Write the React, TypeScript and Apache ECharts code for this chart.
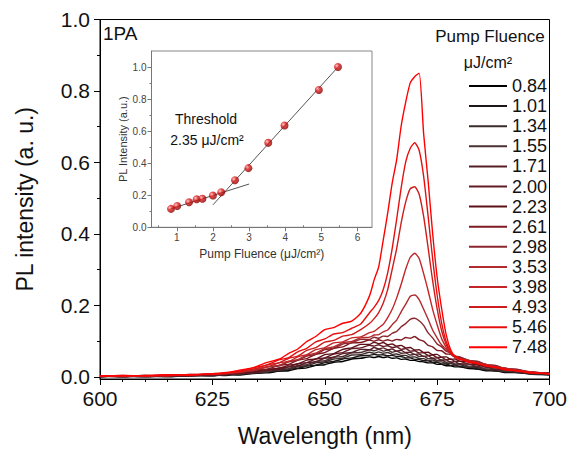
import { useEffect, useRef } from 'react';
import * as echarts from 'echarts';

const wavelengths = [600, 605, 610, 615, 620, 625, 628, 631, 634, 637, 640, 642, 644, 646, 648, 650, 652, 654, 656, 658,
  660, 661, 662, 663, 664, 665, 666, 667, 668, 669, 670, 671, 672, 673, 674, 675, 676, 677, 678, 679, 680,
  682, 684, 686, 688, 690, 693, 696, 700];

const fluences = ['0.84', '1.01', '1.34', '1.55', '1.71', '2.00', '2.23', '2.61', '2.98', '3.53', '3.98', '4.93', '5.46', '7.48'];

const lineColors = ['#000000', '#1c1616', '#3a2c2c', '#4a3030', '#561e26', '#621c26', '#5e1018', '#7e1a22', '#8a262c', '#b02a2e', '#c22628', '#cc1c1c', '#e41010', '#ff0000'];

const s084 = [0.001, 0.002, 0.000, 0.002, 0.004, 0.003, 0.006, 0.005, 0.010, 0.011, 0.016, 0.017, 0.023, 0.025, 0.032, 0.034, 0.041, 0.043, 0.050, 0.052,
  0.056, 0.054, 0.057, 0.054, 0.056, 0.052, 0.053, 0.049, 0.050, 0.046, 0.046, 0.043, 0.042, 0.039, 0.039, 0.035, 0.035, 0.031, 0.031, 0.028, 0.028,
  0.023, 0.022, 0.017, 0.017, 0.012, 0.012, 0.007, 0.006];
const s101 = [0.002, 0.001, 0.002, 0.001, 0.003, 0.005, 0.004, 0.008, 0.009, 0.014, 0.016, 0.021, 0.024, 0.030, 0.033, 0.040, 0.043, 0.050, 0.053, 0.059,
  0.060, 0.063, 0.061, 0.062, 0.059, 0.060, 0.057, 0.057, 0.053, 0.053, 0.049, 0.049, 0.045, 0.045, 0.041, 0.041, 0.036, 0.036, 0.032, 0.033, 0.029,
  0.027, 0.022, 0.021, 0.016, 0.016, 0.011, 0.010, 0.005];
const s134 = [0.000, 0.002, 0.002, 0.001, 0.004, 0.003, 0.007, 0.007, 0.012, 0.013, 0.020, 0.021, 0.028, 0.031, 0.039, 0.042, 0.050, 0.052, 0.061, 0.062,
  0.069, 0.066, 0.070, 0.066, 0.068, 0.063, 0.064, 0.060, 0.060, 0.055, 0.056, 0.051, 0.051, 0.046, 0.047, 0.042, 0.042, 0.037, 0.038, 0.033, 0.034,
  0.027, 0.026, 0.020, 0.020, 0.014, 0.014, 0.008, 0.008];
const s155 = [0.002, 0.000, 0.003, 0.001, 0.004, 0.004, 0.007, 0.008, 0.013, 0.014, 0.022, 0.023, 0.032, 0.034, 0.043, 0.045, 0.055, 0.057, 0.067, 0.068,
  0.076, 0.073, 0.077, 0.072, 0.075, 0.069, 0.072, 0.066, 0.067, 0.061, 0.063, 0.057, 0.058, 0.051, 0.052, 0.046, 0.047, 0.041, 0.042, 0.036, 0.037,
  0.030, 0.029, 0.022, 0.022, 0.016, 0.015, 0.009, 0.008];
const s171 = [0.001, 0.003, 0.001, 0.003, 0.003, 0.006, 0.006, 0.011, 0.011, 0.018, 0.020, 0.028, 0.030, 0.040, 0.042, 0.052, 0.055, 0.065, 0.068, 0.077,
  0.076, 0.082, 0.078, 0.081, 0.076, 0.078, 0.072, 0.074, 0.068, 0.069, 0.063, 0.064, 0.057, 0.059, 0.052, 0.053, 0.046, 0.048, 0.041, 0.043, 0.036,
  0.036, 0.028, 0.028, 0.020, 0.021, 0.013, 0.012, 0.007];
const s200 = [0.002, 0.000, 0.003, 0.002, 0.005, 0.005, 0.008, 0.009, 0.015, 0.017, 0.026, 0.028, 0.037, 0.040, 0.050, 0.053, 0.064, 0.068, 0.079, 0.081,
  0.088, 0.086, 0.090, 0.085, 0.087, 0.082, 0.084, 0.077, 0.079, 0.072, 0.073, 0.067, 0.067, 0.060, 0.061, 0.054, 0.055, 0.048, 0.050, 0.043, 0.044,
  0.035, 0.035, 0.026, 0.027, 0.019, 0.018, 0.010, 0.010];
const s223 = [0.000, 0.003, 0.001, 0.004, 0.003, 0.007, 0.007, 0.012, 0.014, 0.021, 0.024, 0.033, 0.036, 0.047, 0.050, 0.062, 0.065, 0.077, 0.081, 0.091,
  0.091, 0.097, 0.093, 0.096, 0.090, 0.092, 0.086, 0.088, 0.081, 0.082, 0.075, 0.076, 0.068, 0.069, 0.062, 0.063, 0.055, 0.056, 0.049, 0.050, 0.044,
  0.042, 0.033, 0.032, 0.025, 0.024, 0.016, 0.014, 0.009];
const s261 = [0.003, 0.001, 0.004, 0.003, 0.006, 0.006, 0.010, 0.011, 0.019, 0.021, 0.033, 0.035, 0.047, 0.051, 0.063, 0.068, 0.080, 0.084, 0.095, 0.096,
  0.103, 0.100, 0.104, 0.100, 0.104, 0.100, 0.105, 0.103, 0.110, 0.108, 0.113, 0.104, 0.100, 0.088, 0.084, 0.074, 0.073, 0.064, 0.063, 0.055, 0.055,
  0.045, 0.043, 0.033, 0.032, 0.023, 0.021, 0.012, 0.011];
const s298 = [0.001, 0.004, 0.002, 0.005, 0.005, 0.008, 0.008, 0.014, 0.017, 0.027, 0.031, 0.042, 0.046, 0.058, 0.063, 0.076, 0.080, 0.092, 0.095, 0.105,
  0.105, 0.111, 0.108, 0.114, 0.113, 0.122, 0.127, 0.140, 0.149, 0.161, 0.164, 0.157, 0.144, 0.123, 0.109, 0.092, 0.084, 0.072, 0.067, 0.058, 0.056,
  0.046, 0.043, 0.034, 0.031, 0.023, 0.020, 0.012, 0.010];
const s353 = [0.002, 0.003, 0.003, 0.005, 0.005, 0.009, 0.009, 0.015, 0.018, 0.028, 0.033, 0.044, 0.048, 0.061, 0.066, 0.079, 0.084, 0.096, 0.099, 0.109,
  0.111, 0.117, 0.118, 0.126, 0.131, 0.146, 0.159, 0.182, 0.203, 0.225, 0.229, 0.216, 0.189, 0.161, 0.131, 0.109, 0.089, 0.077, 0.065, 0.059, 0.051,
  0.047, 0.039, 0.035, 0.028, 0.025, 0.017, 0.014, 0.008];
const s398 = [0.003, 0.002, 0.004, 0.004, 0.007, 0.007, 0.011, 0.013, 0.021, 0.027, 0.040, 0.043, 0.056, 0.062, 0.076, 0.082, 0.095, 0.098, 0.109, 0.112,
  0.124, 0.127, 0.137, 0.147, 0.166, 0.189, 0.221, 0.259, 0.301, 0.334, 0.346, 0.331, 0.289, 0.241, 0.189, 0.146, 0.107, 0.083, 0.064, 0.057, 0.049,
  0.045, 0.038, 0.034, 0.027, 0.024, 0.017, 0.014, 0.008];
const s493 = [0.002, 0.003, 0.003, 0.005, 0.005, 0.009, 0.010, 0.016, 0.021, 0.033, 0.040, 0.052, 0.058, 0.074, 0.082, 0.097, 0.102, 0.114, 0.118, 0.132,
  0.150, 0.163, 0.180, 0.206, 0.244, 0.301, 0.359, 0.431, 0.489, 0.526, 0.532, 0.511, 0.449, 0.361, 0.269, 0.191, 0.129, 0.091, 0.065, 0.056, 0.049,
  0.045, 0.037, 0.033, 0.026, 0.023, 0.016, 0.013, 0.008];
const s546 = [0.003, 0.002, 0.004, 0.003, 0.007, 0.007, 0.012, 0.015, 0.025, 0.033, 0.048, 0.054, 0.070, 0.080, 0.098, 0.106, 0.120, 0.124, 0.136, 0.148,
  0.180, 0.195, 0.214, 0.244, 0.291, 0.359, 0.441, 0.529, 0.601, 0.639, 0.655, 0.634, 0.561, 0.449, 0.331, 0.229, 0.151, 0.099, 0.071, 0.055, 0.051,
  0.042, 0.038, 0.030, 0.027, 0.021, 0.017, 0.011, 0.009];
const s748 = [0.002, 0.004, 0.003, 0.006, 0.005, 0.009, 0.011, 0.019, 0.025, 0.040, 0.050, 0.066, 0.078, 0.099, 0.113, 0.132, 0.138, 0.150, 0.156, 0.178,
  0.228, 0.272, 0.308, 0.382, 0.458, 0.542, 0.608, 0.702, 0.768, 0.822, 0.840, 0.850, 0.680, 0.548, 0.402, 0.279, 0.191, 0.119, 0.076, 0.057, 0.051,
  0.041, 0.037, 0.030, 0.027, 0.020, 0.017, 0.011, 0.009];

const spectra = [s084, s101, s134, s155, s171, s200, s223, s261, s298, s353, s398, s493, s546, s748];

const insetFluence = [0.84, 1.01, 1.34, 1.55, 1.71, 2.00, 2.23, 2.61, 2.98, 3.53, 3.98, 4.93, 5.46];
const insetIntensity = [0.115, 0.133, 0.156, 0.175, 0.178, 0.198, 0.219, 0.294, 0.369, 0.527, 0.635, 0.857, 1.0];
const lowFit = [[0.8, 0.113], [3.0, 0.27]];
const highFit = [[2.0, 0.14], [5.5, 1.01]];

const mainYTicks = [0, 0.2, 0.4, 0.6, 0.8, 1.0];
const mainYMinor = [0.1, 0.3, 0.5, 0.7, 0.9];
const insetXTicks = [1, 2, 3, 4, 5, 6];
const insetXMinor = [0.5, 1.5, 2.5, 3.5, 4.5, 5.5];
const insetYTicks = [0, 0.2, 0.4, 0.6, 0.8, 1.0];
const insetYMinor = [0.1, 0.3, 0.5, 0.7, 0.9];

const FONT = '"Liberation Sans", Arial, sans-serif';

export default function App() {
  const ref = useRef<HTMLDivElement>(null);
  useEffect(() => {
    const chart = echarts.init(ref.current!, null, { renderer: 'svg' });
    const mainSeries = spectra.map((s, i) => ({
      name: fluences[i],
      type: 'line',
      xAxisIndex: 0,
      yAxisIndex: 0,
      data: wavelengths.map((w, j) => [w, s[j]]),
      symbol: 'none',
      showSymbol: false,
      smooth: 0.2,
      lineStyle: { color: lineColors[i], width: 1.4 },
      itemStyle: { color: lineColors[i] },
      z: 2 + i * 0.01,
    }));
    const option: any = {
      animation: false,
      backgroundColor: '#fff',
      textStyle: { fontFamily: FONT },
      grid: [
        { left: 100, right: 21.5, top: 19.5, bottom: 76, show: true, borderColor: '#000', borderWidth: 1, backgroundColor: 'transparent' },
        { left: 151.5, top: 51, width: 220.5, height: 176.3, show: true, borderColor: '#888', borderWidth: 1, backgroundColor: '#fff', z: 3 },
      ],
      xAxis: [
        {
          type: 'value', gridIndex: 0, min: 600, max: 700, interval: 25,
          axisLine: { show: true, onZero: false, lineStyle: { color: '#000', width: 1 } },
          axisTick: { show: true, length: 6, lineStyle: { color: '#000' } },
          minorTick: { show: true, splitNumber: 5, length: 3, lineStyle: { color: '#000' } },
          axisLabel: { fontSize: 21, color: '#111', margin: 9, fontFamily: FONT },
          splitLine: { show: false },
          name: 'Wavelength (nm)', nameLocation: 'middle', nameGap: 45,
          nameTextStyle: { fontSize: 23, color: '#111', fontFamily: FONT },
        },
        {
          type: 'value', gridIndex: 1, min: 0.3, max: 6.4,
          axisLine: { show: true, onZero: false, lineStyle: { color: '#777', width: 1 } },
          axisTick: { show: true, customValues: insetXTicks, length: 4, lineStyle: { color: '#777' } },
          axisLabel: { customValues: insetXTicks, fontSize: 10, color: '#444', margin: 5, fontFamily: FONT },
          splitLine: { show: false },
          name: 'Pump Fluence (μJ/cm²)', nameLocation: 'middle', nameGap: 21,
          nameTextStyle: { fontSize: 12, color: '#333', fontFamily: FONT },
          z: 4,
        },
        {
          type: 'value', gridIndex: 1, min: 0.3, max: 6.4,
          axisLine: { show: false },
          axisTick: { show: true, customValues: insetXMinor, length: 2, lineStyle: { color: '#777' } },
          axisLabel: { show: false },
          splitLine: { show: false },
          z: 4,
        },
      ],
      yAxis: [
        {
          type: 'value', gridIndex: 0, min: -0.006, max: 1.0, position: 'left',
          axisLine: { show: true, onZero: false, lineStyle: { color: '#000', width: 1 } },
          axisTick: { show: true, customValues: mainYTicks, length: 6, lineStyle: { color: '#000' } },
          axisLabel: { customValues: mainYTicks, formatter: (v: number) => v.toFixed(1), fontSize: 21, color: '#111', margin: 10, fontFamily: FONT },
          splitLine: { show: false },
          name: 'PL intensity (a. u.)', nameLocation: 'middle', nameGap: 64,
          nameTextStyle: { fontSize: 23, color: '#111', fontFamily: FONT },
        },
        {
          type: 'value', gridIndex: 0, min: -0.006, max: 1.0, position: 'left',
          axisLine: { show: false },
          axisTick: { show: true, customValues: mainYMinor, length: 3, lineStyle: { color: '#000' } },
          axisLabel: { show: false },
          splitLine: { show: false },
        },
        {
          type: 'value', gridIndex: 1, min: 0, max: 1.1, position: 'left',
          axisLine: { show: true, onZero: false, lineStyle: { color: '#777', width: 1 } },
          axisTick: { show: true, customValues: insetYTicks, length: 4, lineStyle: { color: '#777' } },
          axisLabel: { customValues: insetYTicks, formatter: (v: number) => v.toFixed(1), fontSize: 10, color: '#444', margin: 5, fontFamily: FONT },
          splitLine: { show: false },
          name: 'PL Intensity (a.u.)', nameLocation: 'middle', nameGap: 23,
          nameTextStyle: { fontSize: 11, color: '#333', fontFamily: FONT },
          z: 4,
        },
        {
          type: 'value', gridIndex: 1, min: 0, max: 1.1, position: 'left',
          axisLine: { show: false },
          axisTick: { show: true, customValues: insetYMinor, length: 2, lineStyle: { color: '#777' } },
          axisLabel: { show: false },
          splitLine: { show: false },
          z: 4,
        },
      ],
      legend: {
        data: fluences.map((f) => ({ name: f, icon: 'rect' })),
        orient: 'vertical',
        left: 464,
        top: 72,
        itemWidth: 38,
        itemHeight: 2,
        itemGap: 2.1,
        textStyle: { fontSize: 18, color: '#111', fontFamily: FONT, lineHeight: 18 },
        selectedMode: false,
      },
      graphic: [
        { type: 'text', left: 103, top: 24, style: { text: '1PA', font: `19px ${FONT}`, fill: '#111' } },
        { type: 'text', x: 490, y: 36, style: { text: 'Pump Fluence', font: `17px ${FONT}`, fill: '#111', textAlign: 'center', textVerticalAlign: 'middle' } },
        { type: 'text', x: 488, y: 62, style: { text: 'μJ/cm²', font: `16px ${FONT}`, fill: '#111', textAlign: 'center', textVerticalAlign: 'middle' } },
        { type: 'text', x: 206, y: 119, z: 10, style: { text: 'Threshold', font: `14px ${FONT}`, fill: '#111', textAlign: 'center', textVerticalAlign: 'middle' } },
        { type: 'text', x: 207, y: 140, z: 10, style: { text: '2.35 μJ/cm²', font: `14px ${FONT}`, fill: '#111', textAlign: 'center', textVerticalAlign: 'middle' } },
      ],
      series: [
        ...mainSeries,
        {
          type: 'line', xAxisIndex: 1, yAxisIndex: 2, data: lowFit, symbol: 'none',
          lineStyle: { color: '#555', width: 1 }, z: 6,
        },
        {
          type: 'line', xAxisIndex: 1, yAxisIndex: 2, data: highFit, symbol: 'none',
          lineStyle: { color: '#555', width: 1 }, z: 6,
        },
        {
          type: 'scatter', xAxisIndex: 1, yAxisIndex: 2,
          data: insetFluence.map((f, i) => [f, insetIntensity[i]]),
          symbolSize: 8,
          itemStyle: {
            color: new echarts.graphic.RadialGradient(0.35, 0.35, 0.7, [
              { offset: 0, color: '#ffc0c0' },
              { offset: 0.4, color: '#e01818' },
              { offset: 1, color: '#7a0000' },
            ]),
          },
          z: 7,
        },
      ],
    };
    chart.setOption(option);
    return () => chart.dispose();
  }, []);
  return <div ref={ref} style={{ position: 'absolute', left: 0, top: 0, width: 571, height: 455, background: '#fff' }} />;
}
